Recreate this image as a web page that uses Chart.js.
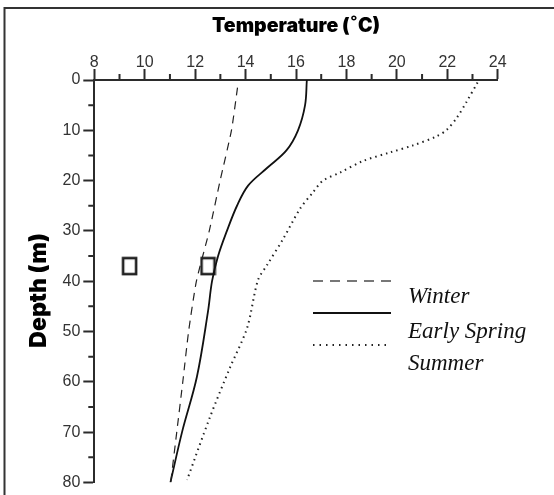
<!DOCTYPE html>
<html>
<head>
<meta charset="utf-8">
<script src="https://cdn.jsdelivr.net/npm/chart.js@4.4.1/dist/chart.umd.min.js"></script>
<style>
    html, body { margin: 0; padding: 0; background: #fff; }
    #depthChart { display: block; }
</style>
</head>
<body>
<canvas id="depthChart" width="554" height="495"></canvas>
<script>
// temperature profiles (depth in m, temperature in C)
const winterDepth = [1.5, 10, 20, 30, 40, 50, 60, 70, 80];
const winterTemp  = [13.68, 13.44, 12.99, 12.56, 12.05, 11.74, 11.51, 11.27, 11.03];

const springDepth = [0, 5, 10, 14, 17.5, 21, 25, 30, 35, 40, 46, 59, 70, 80];
const springTemp  = [16.43, 16.36, 16.08, 15.62, 14.85, 14.1, 13.66, 13.26, 12.91, 12.67, 12.51, 12.07, 11.48, 11.02];

const summerDepth = [0.5, 4.3, 7.5, 9.9, 11.2, 13, 14.4, 16.1, 18.4, 20, 22.3, 25.6, 31.6, 36.8, 39.8, 49.3, 57.2, 67, 79.5];
const summerTemp  = [23.2, 22.77, 22.38, 21.98, 21.58, 20.64, 19.73, 18.66, 17.75, 17.07, 16.68, 16.16, 15.49, 14.85, 14.49, 14.06, 13.38, 12.59, 11.68];

const sampleDepth = [37, 37];
const sampleTemp  = [9.4, 12.51];

const seriesLabels = ['Winter', 'Early Spring', 'Summer'];

const minorTempTicks  = [9, 11, 13, 15, 17, 19, 21, 23];
const minorDepthTicks = [5, 15, 25, 35, 45, 55, 65, 75];

const AXIS_COLOR = '#2b2b2b';
const TICK_FONT = { family: 'Liberation Sans', size: 16 };

function toPoints(temps, depths) {
    let pts = [];
    for (let i = 0; i < temps.length; i++)
        pts.push({ x: temps[i], y: depths[i] });
    return pts;
}

function makeSquare() {
    const c = document.createElement('canvas');
    c.width = 17;
    c.height = 20;
    const g = c.getContext('2d');
    g.strokeStyle = '#222';
    g.lineWidth = 2.6;
    g.strokeRect(2, 2, 13, 16);
    return c;
}

const frameLines = {
    id: 'frameLines',
    beforeDraw(chart) {
        const ctx = chart.ctx;
        ctx.save();
        ctx.strokeStyle = '#333';
        ctx.lineWidth = 2;
        ctx.beginPath();
        ctx.moveTo(4.5, chart.height);
        ctx.lineTo(4.5, 8);
        ctx.lineTo(chart.width, 8);
        ctx.stroke();
        ctx.restore();
    }
};

const minorTicks = {
    id: 'minorTicks',
    afterDraw(chart) {
        const ctx = chart.ctx;
        const xs = chart.scales.x;
        const ys = chart.scales.y;
        const top = chart.chartArea.top;
        const left = chart.chartArea.left;
        ctx.save();
        ctx.strokeStyle = AXIS_COLOR;
        ctx.lineWidth = 2;
        ctx.beginPath();
        minorTempTicks.forEach(t => {
            const px = xs.getPixelForValue(t);
            ctx.moveTo(px, top);
            ctx.lineTo(px, top - 6);
        });
        minorDepthTicks.forEach(d => {
            const py = ys.getPixelForValue(d);
            ctx.moveTo(left, py);
            ctx.lineTo(left - 6, py);
        });
        ctx.stroke();
        ctx.restore();
    }
};

// legend sits inside the plot, text a little below each sample line
const insideLegend = {
    id: 'insideLegend',
    afterDraw(chart) {
        const ctx = chart.ctx;
        const styles = [
            { dash: [10, 7], color: '#777', width: 2, lineY: 281, textY: 303 },
            { dash: [], color: '#111', width: 2, lineY: 313, textY: 338 },
            { dash: [1.5, 5], color: '#222', width: 2, lineY: 345, textY: 370 }
        ];
        ctx.save();
        ctx.font = 'italic 23px "Liberation Serif"';
        ctx.textBaseline = 'alphabetic';
        styles.forEach((s, i) => {
            ctx.strokeStyle = s.color;
            ctx.lineWidth = s.width;
            ctx.setLineDash(s.dash);
            ctx.beginPath();
            ctx.moveTo(313, s.lineY);
            ctx.lineTo(391, s.lineY);
            ctx.stroke();
            ctx.setLineDash([]);
            ctx.fillStyle = '#111';
            ctx.fillText(chart.data.datasets[i].label, 408, s.textY);
        });
        ctx.restore();
    }
};

new Chart(document.getElementById('depthChart'), {
    type: 'scatter',
    data: {
        datasets: [
            {
                label: seriesLabels[0],
                data: toPoints(winterTemp, winterDepth),
                showLine: true,
                borderColor: '#222',
                borderWidth: 1.2,
                borderDash: [8, 6],
                pointRadius: 0,
                tension: 0.2
            },
            {
                label: seriesLabels[1],
                data: toPoints(springTemp, springDepth),
                showLine: true,
                borderColor: '#111',
                borderWidth: 1.8,
                pointRadius: 0,
                tension: 0.35
            },
            {
                label: seriesLabels[2],
                data: toPoints(summerTemp, summerDepth),
                showLine: true,
                borderColor: '#222',
                borderWidth: 2,
                borderDash: [1.5, 4],
                pointRadius: 0,
                tension: 0.3
            },
            {
                label: 'samples',
                data: toPoints(sampleTemp, sampleDepth),
                showLine: false,
                pointStyle: makeSquare(),
                pointRadius: 8
            }
        ]
    },
    plugins: [frameLines, minorTicks, insideLegend],
    options: {
        responsive: false,
        animation: false,
        devicePixelRatio: 1,
        layout: { padding: { top: 0, left: 0, right: 56.3, bottom: 11.7 } },
        plugins: {
            legend: { display: false },
            tooltip: { enabled: false }
        },
        scales: {
            x: {
                type: 'linear',
                position: 'top',
                min: 8,
                max: 24,
                ticks: { stepSize: 2, color: '#333', font: TICK_FONT, padding: -3, maxRotation: 0 },
                grid: { drawOnChartArea: false, drawTicks: true, tickLength: 11, tickColor: AXIS_COLOR, tickWidth: 2 },
                border: { display: true, color: AXIS_COLOR, width: 2 },
                title: {
                    display: true,
                    text: 'Temperature (˚C)',
                    color: '#000',
                    font: { family: 'Inter', size: 19.5, weight: 900 },
                    padding: { top: 14, bottom: 0 }
                },
                afterFit(scale) { scale.height = 80; }
            },
            y: {
                type: 'linear',
                reverse: true,
                min: 0,
                max: 80,
                ticks: { stepSize: 10, color: '#333', font: TICK_FONT, padding: 3 },
                grid: { drawOnChartArea: false, drawTicks: true, tickLength: 11, tickColor: AXIS_COLOR, tickWidth: 2 },
                border: { display: true, color: AXIS_COLOR, width: 2 },
                title: {
                    display: true,
                    text: 'Depth (m)    ',
                    color: '#000',
                    font: { family: 'Inter', size: 23, weight: 900 },
                    padding: { top: 25, bottom: 0 }
                },
                afterFit(scale) { scale.width = 94.3; }
            }
        }
    }
});
</script>
</body>
</html>
